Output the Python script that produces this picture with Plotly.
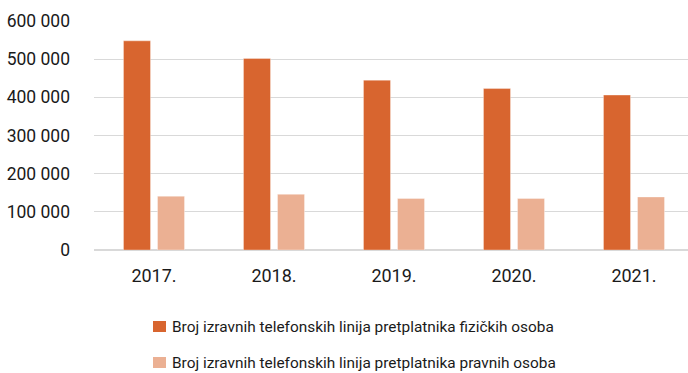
import plotly.graph_objects as go

years = ["2017.", "2018.", "2019.", "2020.", "2021."]
fizicke = [548000, 502000, 445000, 423000, 406000]
pravne = [141000, 146000, 135000, 135000, 139000]
y_ticks = [0, 100000, 200000, 300000, 400000, 500000, 600000]

name_fiz = "Broj izravnih telefonskih linija pretplatnika fizičkih osoba"
name_prav = "Broj izravnih telefonskih linija pretplatnika pravnih osoba"
col_fiz = "#D8652F"
col_prav = "#EBB093"

FONT = "Roboto, Liberation Sans, sans-serif"

# plot area in pixels: left 94, right 688, top 21, bottom 250
L, R, T, B = 94, 688, 21, 250


def px_x(p):
    return (p - L) / (R - L)


def px_y(p):
    return (B - p) / (B - T)


fig = go.Figure()
fig.add_trace(go.Bar(
    x=years, y=fizicke, name=name_fiz, showlegend=False,
    marker=dict(color=col_fiz, line=dict(color="rgba(255,255,255,0.35)", width=1)),
))
fig.add_trace(go.Bar(
    x=years, y=pravne, name=name_prav, showlegend=False,
    marker=dict(color=col_prav, line=dict(color="rgba(255,255,255,0.35)", width=1)),
))

# legend drawn below the chart: colour square + label per series
for (name, col, yc) in [(name_fiz, col_fiz, 326.5), (name_prav, col_prav, 362.5)]:
    fig.add_shape(
        type="rect", xref="paper", yref="paper",
        x0=px_x(153), x1=px_x(166), y0=px_y(yc - 5.5), y1=px_y(yc + 5.5),
        fillcolor=col, line=dict(width=0),
    )
    fig.add_annotation(
        xref="paper", yref="paper", x=px_x(170), y=px_y(yc),
        xanchor="left", yanchor="middle", showarrow=False,
        text=name, font=dict(family=FONT, size=15.4, color="#1a1a1a"),
    )

fig.update_layout(
    width=688, height=373,
    margin=dict(l=L, r=688 - R, t=T, b=373 - B, autoexpand=False),
    paper_bgcolor="white", plot_bgcolor="white",
    barmode="group", bargap=0.433, bargroupgap=0.206,
    separators=", ",
    font=dict(family=FONT, color="#1a1a1a", size=18),
    xaxis=dict(
        range=[-0.5, 4.45], showgrid=False, showline=False, zeroline=False,
        ticks="", ticklabelstandoff=13, tickfont=dict(size=18),
    ),
    yaxis=dict(
        range=[0, 600000], tickvals=y_ticks, tickformat=",d",
        showgrid=True, gridcolor="#d9d9d9", gridwidth=1.3,
        zeroline=True, zerolinecolor="#d9d9d9", zerolinewidth=1.5,
        showline=False, ticks="", ticklabelstandoff=23, tickfont=dict(size=17.5),
    ),
)

fig.write_html("out.html")
